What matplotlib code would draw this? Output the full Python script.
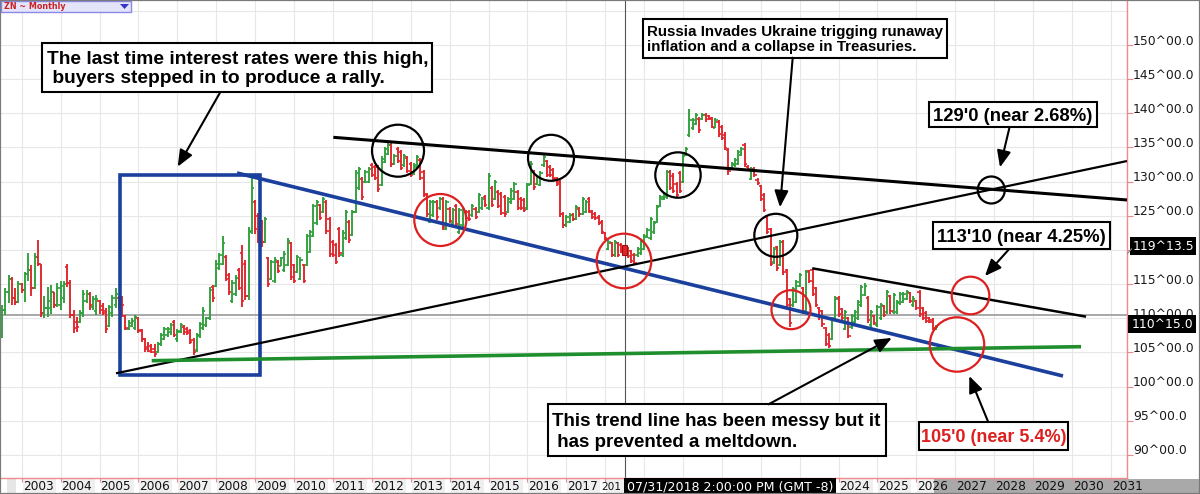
import numpy as np
import pandas as pd
import matplotlib
matplotlib.use("Agg")
import matplotlib.pyplot as plt
import matplotlib.transforms as mtrans
from matplotlib.patches import Rectangle, Ellipse, FancyArrowPatch, Polygon
from matplotlib.lines import Line2D

# ---------------- data (ZN monthly bars, Jul 2002 .. Jul 2026) ----------------
first_month = "2002-07-01"

opens = [
    107.5, 111.2, 113.8, 115.8, 113.0, 112.4,
    115.0, 114.2, 116.5, 117.0, 114.5, 119.0, 118.0, 110.8, 111.5, 111.5, 113.8, 112.0,
    112.0, 113.0, 117.5, 115.2, 110.5, 109.5, 109.5, 110.8, 112.5, 113.6, 111.6, 111.0,
    112.5, 111.8, 111.0, 108.9, 110.8, 112.0, 113.0, 112.8, 110.3, 108.5, 108.9, 108.6,
    110.0, 108.3, 107.0, 105.8, 106.0, 105.5, 105.0, 106.2, 107.0, 107.6, 108.0, 109.5,
    106.9, 108.0, 108.8, 108.5, 108.2, 106.8, 105.4, 107.4, 108.6, 109.0, 110.0, 114.6,
    114.8, 117.4, 118.0, 119.0, 116.4, 112.6, 113.5, 117.0, 119.5, 118.0, 113.2, 122.6,
    127.0, 125.0, 124.0, 121.2, 118.8, 115.8, 115.5, 118.3, 117.7, 117.0, 117.8, 121.0,
    117.8, 116.8, 115.8, 117.8, 117.8, 119.7, 122.1, 123.9, 126.6, 125.6, 127.0, 124.6,
    121.2, 120.7, 123.0, 119.2, 121.7, 124.1, 122.2, 125.6, 129.0, 130.4, 130.0, 130.0,
    132.4, 132.1, 132.1, 129.5, 132.9, 134.1, 135.3, 132.6, 134.8, 134.3, 132.4, 133.4,
    132.6, 131.2, 132.1, 133.1, 131.4, 128.0, 124.1, 125.1, 127.0, 126.1, 127.5, 123.1,
    126.0, 123.9, 126.5, 122.6, 123.6, 125.6, 125.6, 125.1, 126.0, 125.6, 126.1, 127.8,
    126.1, 129.0, 127.5, 128.5, 128.2, 127.7, 125.6, 127.0, 127.5, 128.5, 127.5, 127.3,
    126.1, 129.7, 131.4, 129.7, 129.5, 132.4, 133.0, 132.1, 131.7, 130.4, 130.0, 125.3,
    123.6, 124.1, 125.1, 124.6, 126.0, 125.3, 125.6, 127.5, 125.6, 125.3, 124.8, 124.1,
    122.5, 120.2, 121.0, 119.2, 121.0, 120.8, 120.5, 120.3, 119.8, 119.3, 119.2, 119.5,
    120.2, 121.9, 121.7, 122.6, 124.1, 126.5, 127.5, 127.7, 131.4, 130.9, 129.7, 131.2,
    130.0, 133.9, 136.8, 137.8, 138.5, 139.2, 139.2, 139.7, 139.6, 139.3, 137.9, 138.8,
    138.0, 136.8, 134.6, 131.9, 132.4, 132.6, 133.9, 135.3, 132.2, 130.4, 131.9, 130.3,
    129.3, 128.1, 124.9, 123.0, 118.2, 120.4, 117.8, 121.2, 117.0, 112.8, 111.9, 112.4,
    114.8, 114.4, 110.9, 116.9, 117.0, 114.4, 111.5, 111.0, 108.6, 107.6, 107.0, 110.0,
    113.0, 111.3, 108.5, 110.0, 108.7, 109.5, 110.0, 111.9, 113.4, 113.0, 109.0, 110.3,
    109.0, 110.0, 111.8, 110.9, 113.2, 110.9, 110.9, 112.2, 112.4, 112.9, 113.7, 111.9,
    112.5, 113.8, 111.5, 110.8, 110.0, 109.8, 108.4,
]
highs = [
    112.0, 114.4, 116.3, 116.1, 114.4, 115.4,
    115.1, 116.8, 119.5, 117.8, 119.5, 121.5, 118.0, 113.2, 114.6, 114.9, 113.9, 115.1,
    115.4, 115.4, 118.0, 115.6, 111.2, 110.2, 111.2, 114.1, 114.1, 113.9, 113.2, 113.4,
    112.7, 112.2, 111.5, 112.0, 113.4, 114.4, 113.2, 113.2, 110.5, 109.8, 110.0, 110.5,
    110.2, 108.5, 107.1, 106.6, 106.3, 106.3, 106.6, 107.8, 108.8, 108.8, 109.3, 109.8,
    108.5, 109.3, 109.0, 108.8, 108.5, 107.1, 107.8, 109.5, 111.7, 110.2, 114.6, 114.9,
    118.5, 119.5, 122.0, 119.3, 116.6, 115.6, 116.3, 117.3, 120.7, 118.5, 123.4, 131.0,
    127.3, 125.4, 124.4, 124.9, 119.0, 118.5, 119.0, 118.5, 119.0, 119.8, 121.7, 121.2,
    118.0, 119.3, 119.0, 118.0, 122.4, 122.9, 126.8, 127.3, 126.8, 127.8, 127.3, 124.9,
    121.5, 121.0, 123.4, 122.9, 125.9, 124.4, 125.9, 131.7, 132.2, 130.7, 131.7, 132.2,
    132.7, 132.4, 132.4, 133.7, 135.1, 135.6, 135.6, 134.1, 135.1, 134.6, 134.1, 133.7,
    132.9, 132.7, 133.9, 133.4, 131.7, 128.3, 127.3, 127.3, 127.3, 127.8, 127.8, 127.3,
    126.3, 126.1, 126.8, 126.1, 126.3, 125.9, 125.9, 126.8, 126.3, 128.3, 127.8, 128.0,
    131.2, 129.3, 130.2, 128.8, 128.5, 128.0, 127.8, 129.0, 130.0, 128.8, 127.8, 127.6,
    129.8, 133.0, 131.7, 131.0, 131.5, 133.9, 133.2, 132.4, 132.0, 130.7, 130.2, 125.6,
    125.1, 125.4, 125.4, 126.6, 126.3, 127.8, 127.3, 127.8, 125.9, 125.6, 125.1, 124.4,
    122.7, 121.5, 121.2, 121.5, 121.2, 121.0, 120.7, 120.5, 120.0, 119.5, 120.5, 121.5,
    122.4, 123.2, 124.9, 124.2, 126.6, 128.0, 128.3, 131.7, 131.7, 131.2, 130.0, 131.5,
    134.1, 135.1, 140.7, 139.3, 140.0, 139.5, 140.0, 140.0, 139.8, 139.5, 139.3, 139.0,
    138.3, 137.3, 134.9, 132.9, 133.4, 134.6, 135.1, 135.6, 132.4, 132.2, 132.2, 130.5,
    129.5, 128.3, 125.1, 123.2, 120.5, 120.6, 121.5, 121.4, 117.2, 113.0, 114.6, 115.6,
    116.6, 114.6, 117.1, 117.1, 117.3, 114.6, 111.7, 111.2, 108.8, 107.8, 110.2, 113.2,
    113.2, 111.5, 111.2, 110.2, 110.7, 111.2, 112.7, 114.9, 115.1, 113.2, 111.2, 110.5,
    112.0, 112.2, 112.0, 114.1, 113.4, 113.7, 112.7, 113.9, 113.9, 114.1, 113.9, 113.2,
    112.7, 114.1, 111.7, 111.0, 110.2, 110.0, 109.0,
]
lows = [
    107.1, 110.5, 112.2, 112.0, 112.0, 112.2,
    113.7, 112.4, 115.4, 113.2, 114.3, 117.6, 110.2, 110.0, 110.2, 110.7, 111.5, 111.7,
    111.2, 112.2, 114.6, 110.0, 107.8, 108.0, 109.3, 110.2, 112.2, 111.2, 111.2, 110.5,
    110.7, 110.5, 107.8, 108.8, 110.2, 111.5, 111.2, 110.2, 108.3, 108.3, 108.8, 108.3,
    107.8, 106.6, 105.1, 105.0, 104.9, 104.4, 104.9, 105.9, 106.8, 107.3, 107.6, 107.3,
    106.6, 107.8, 107.6, 107.6, 106.3, 104.6, 105.1, 107.1, 108.3, 108.8, 109.8, 112.4,
    114.6, 117.1, 117.8, 115.4, 113.4, 112.2, 113.2, 114.1, 111.7, 112.7, 112.7, 122.4,
    122.4, 121.0, 120.5, 121.0, 114.6, 115.6, 115.1, 116.6, 117.6, 116.8, 117.6, 115.6,
    115.1, 116.6, 115.6, 115.1, 117.6, 119.5, 121.9, 123.7, 124.4, 125.4, 122.4, 119.0,
    119.0, 118.0, 119.0, 119.0, 121.5, 121.0, 122.0, 125.4, 128.8, 127.3, 129.8, 129.8,
    130.7, 130.2, 128.5, 129.3, 132.7, 133.9, 132.2, 132.4, 132.7, 131.7, 132.2, 131.2,
    130.7, 131.0, 131.9, 130.2, 127.8, 124.9, 123.9, 124.9, 124.4, 125.9, 122.9, 122.9,
    123.9, 123.7, 123.4, 122.4, 123.4, 124.4, 124.2, 124.9, 124.6, 125.4, 125.9, 126.3,
    125.9, 126.3, 127.3, 126.1, 125.1, 124.9, 125.4, 126.8, 127.3, 125.9, 125.9, 125.6,
    125.9, 129.5, 128.8, 129.5, 129.3, 132.2, 130.7, 130.7, 130.2, 129.3, 124.9, 123.2,
    123.4, 123.9, 124.2, 124.4, 124.9, 125.1, 125.4, 125.4, 124.6, 124.4, 123.7, 122.4,
    121.5, 120.0, 119.0, 119.0, 119.0, 119.5, 119.3, 118.8, 118.1, 117.8, 119.0, 119.3,
    120.0, 121.7, 121.5, 122.4, 123.9, 126.3, 127.3, 127.5, 128.8, 128.3, 127.8, 128.3,
    129.8, 133.7, 136.6, 137.6, 138.3, 137.1, 139.0, 138.8, 139.0, 137.8, 137.8, 136.6,
    136.1, 134.6, 131.0, 131.7, 132.2, 132.4, 133.7, 132.2, 131.5, 130.2, 130.7, 129.5,
    127.1, 125.6, 122.4, 117.6, 118.0, 116.9, 117.6, 116.4, 111.5, 108.8, 111.7, 112.2,
    114.6, 110.7, 110.7, 115.1, 113.2, 111.7, 109.8, 108.8, 105.9, 105.6, 106.8, 109.8,
    110.2, 109.8, 108.3, 107.1, 108.5, 109.3, 109.8, 111.7, 113.2, 109.3, 108.8, 109.0,
    108.8, 109.8, 110.2, 110.7, 110.7, 110.7, 110.7, 112.0, 112.2, 112.7, 112.2, 111.7,
    111.2, 110.2, 109.8, 109.3, 109.3, 108.3, 108.3,
]
closes = [
    111.2, 113.8, 115.8, 113.0, 112.4, 115.0,
    114.2, 116.5, 117.0, 114.5, 119.0, 118.0, 110.8, 111.5, 112.5, 113.8, 112.0, 114.5,
    114.8, 115.0, 115.2, 110.5, 108.6, 108.8, 110.8, 113.6, 113.5, 112.0, 112.8, 112.9,
    111.2, 110.8, 108.5, 111.6, 113.0, 113.5, 111.5, 112.0, 108.6, 109.3, 109.6, 110.2,
    108.2, 106.9, 105.5, 105.2, 105.1, 104.8, 106.3, 107.5, 108.4, 108.5, 109.0, 107.6,
    108.2, 109.0, 108.0, 107.8, 106.6, 105.0, 107.5, 109.2, 111.0, 110.0, 114.2, 113.0,
    118.0, 119.2, 121.0, 115.8, 113.8, 115.2, 115.9, 114.5, 112.5, 113.2, 122.8, 129.0,
    123.0, 121.6, 121.2, 124.5, 115.0, 118.2, 118.5, 116.9, 118.8, 119.4, 121.3, 116.0,
    115.5, 119.0, 118.6, 115.4, 122.0, 122.6, 126.4, 127.0, 124.7, 127.4, 122.8, 119.4,
    119.3, 118.3, 119.5, 122.5, 125.5, 121.5, 125.5, 131.2, 131.8, 127.8, 131.4, 131.9,
    131.0, 130.5, 128.9, 133.3, 134.8, 135.3, 132.6, 133.8, 133.0, 132.0, 133.8, 131.5,
    131.0, 132.4, 133.6, 130.6, 128.2, 125.3, 127.0, 127.0, 124.8, 127.5, 123.3, 127.0,
    124.3, 125.8, 123.8, 125.8, 126.0, 124.7, 124.5, 126.5, 124.9, 128.0, 127.5, 126.6,
    130.8, 126.6, 129.9, 126.4, 125.4, 125.2, 127.5, 128.7, 129.7, 126.2, 126.2, 125.9,
    129.5, 132.6, 129.2, 130.7, 131.2, 133.6, 131.0, 131.0, 130.5, 129.6, 125.3, 123.6,
    124.8, 125.1, 124.5, 126.3, 125.2, 127.5, 127.0, 125.7, 124.9, 124.7, 124.0, 122.7,
    121.8, 121.2, 119.3, 121.2, 119.3, 119.8, 119.6, 119.1, 118.4, 118.1, 120.2, 121.2,
    122.1, 122.9, 124.6, 123.9, 126.3, 127.7, 128.0, 131.4, 129.1, 128.6, 128.1, 128.6,
    133.8, 134.8, 139.0, 139.0, 139.7, 137.5, 139.7, 139.1, 139.2, 138.0, 139.0, 137.0,
    136.4, 134.9, 131.5, 132.6, 133.1, 134.3, 134.8, 132.6, 131.8, 131.9, 131.0, 129.8,
    127.4, 125.9, 122.7, 118.0, 120.2, 117.3, 121.2, 116.8, 111.9, 109.3, 114.3, 115.3,
    116.3, 111.1, 116.8, 115.5, 113.6, 112.0, 110.2, 109.2, 106.2, 105.9, 109.9, 112.9,
    110.6, 110.1, 110.9, 107.4, 110.4, 110.9, 112.4, 114.6, 114.8, 109.7, 110.9, 109.3,
    111.7, 111.9, 110.5, 113.8, 111.0, 113.4, 112.4, 113.6, 113.6, 113.8, 112.5, 112.9,
    111.5, 110.6, 110.1, 109.6, 109.5, 108.6, 108.8,
]

price_ticks = list(range(90, 151, 5))
year_ticks = list(range(2003, 2032))
last_price = 110 + 15 / 32          # 110^15.0
cursor_price = 119 + 13.5 / 32      # 119^13.5
cursor_date = 2018.52
cursor_text = "07/31/2018 2:00:00 PM (GMT -8)"

# drawn trend lines (year, price) endpoints
blue_trend = [(2008.535, 131.27), (2029.769, 101.56)]
black_upper = [(2011.010, 136.49), (2031.414, 127.32)]
black_rising = [(2005.424, 101.95), (2031.414, 133.02)]
green_support = [(2006.342, 103.80), (2030.232, 105.85)]
black_lower = [(2023.324, 117.32), (2030.361, 110.24)]
blue_box = [(2005.527, 101.705), (2009.126, 130.975)]

# circles: (year, price, radius in px, colour)
circles = [
    (2012.674, 134.53, 26, "k"), (2013.761, 124.39, 26, "r"),
    (2016.607, 133.49, 23, "k"), (2018.483, 118.39, 27.3, "r"),
    (2019.871, 130.97, 22.7, "k"), (2022.386, 122.15, 21.5, "k"),
    (2022.776, 111.26, 19.5, "r"), (2027.391, 113.34, 18.8, "r"),
    (2027.044, 106.17, 27.2, "r"), (2027.925, 128.78, 13.5, "k"),
]

# ---------------- figure ----------------
W, H = 1200, 494
GREEN = "#2e9e3a"
RED = "#e0242a"
CRED = "#dd1f1f"
BLUE = "#1a3f9c"
AXRED = "#f08a8a"

fig = plt.figure(figsize=(12, 4.94), dpi=100)
fig.patch.set_facecolor("white")
ax = fig.add_axes([0, 16 / H, 1127 / W, 478 / H])
X0, X1 = 2002.442, 2031.414
Y0, Y1 = 86.63, 156.586
ax.set_xlim(X0, X1)
ax.set_ylim(Y0, Y1)
pxx = 1127 / (X1 - X0)
pxy = 478 / (Y1 - Y0)

for s in ["top", "left"]:
    ax.spines[s].set_visible(False)
for s in ["right", "bottom"]:
    ax.spines[s].set_color(AXRED)
    ax.spines[s].set_linewidth(1.0)

ax.set_xticks(year_ticks)
ax.set_yticks(price_ticks)
ax.tick_params(axis="x", bottom=True, top=False, length=3, width=0.8, color=AXRED,
               labelbottom=False, direction="out")
ax.tick_params(axis="y", left=False, right=True, length=4, width=0.8, color=AXRED,
               labelleft=False, labelright=False, direction="out")
ax.grid(True, color="#e7e7e7", lw=0.8)
ax.axhline(155, color="#e7e7e7", lw=0.8, zorder=0)
ax.set_axisbelow(True)

# price axis labels (slightly above their ticks as in the source)
blend = mtrans.blended_transform_factory(ax.transAxes, ax.transData)
for v in price_ticks:
    ax.text(1133 / 1127, v + 4 / pxy, f"{v}^00.0", transform=blend, ha="left",
            va="center", fontsize=8.9, color="#1a1a1a", clip_on=False,
            family="DejaVu Sans")

# ---------------- OHLC bars ----------------
o = np.array(opens); hi = np.array(highs); lo = np.array(lows); c = np.array(closes)
n = min(len(o), len(hi), len(lo), len(c))
o, hi, lo, c = o[:n], hi[:n], lo[:n], c[:n]
dates = pd.date_range(first_month, periods=n, freq="MS")
xs = np.asarray(dates.year + (dates.month - 1) / 12.0, dtype=float)
cols = np.where(c >= o, GREEN, RED)
tk = 2.2 / pxx
ax.vlines(xs, lo, hi, colors=cols, lw=1.35, zorder=2)
ax.hlines(o, xs - tk, xs, colors=cols, lw=1.2, zorder=2)
ax.hlines(c, xs, xs + tk, colors=cols, lw=1.2, zorder=2)
sel = np.where((dates.year == 2018) & (dates.month == 7))[0]
for i in sel:
    ax.add_patch(Rectangle((xs[i] - 2.5 / pxx, lo[i]), 5 / pxx, hi[i] - lo[i],
                           fc=RED, ec="#a01010", lw=0.8, zorder=3))

# ---------------- horizontal price line & cursor ----------------
ax.axhline(last_price, color="#9a9a9a", lw=1.2, zorder=1.5)
ax.axvline(cursor_date, color="#555555", lw=0.8, zorder=1.6)

# ---------------- trend lines ----------------
def seg(pts, color, lw, z=3):
    (xa, ya), (xb, yb) = pts
    ax.add_line(Line2D([xa, xb], [ya, yb], color=color, lw=lw, zorder=z,
                       solid_capstyle="butt"))

(bx0, by0), (bx1, by1) = blue_box
ax.add_patch(Rectangle((bx0, by0), bx1 - bx0, by1 - by0, fill=False, ec=BLUE,
                       lw=2.6, zorder=3, joinstyle="miter"))
seg(blue_trend, BLUE, 2.6)
seg(black_upper, "black", 2.2)
seg(black_rising, "black", 1.6)
seg(green_support, "#1f8f2e", 2.6)
seg(black_lower, "black", 1.8)

for (cx, cy, r, col) in circles:
    ax.add_patch(Ellipse((cx, cy), 2 * r / pxx, 2 * r / pxy, fill=False,
                         ec=("black" if col == "k" else CRED), lw=1.6, zorder=4))

# ---------------- annotation boxes ----------------
BF = dict(family="Liberation Sans", weight="bold")

def box(x0, y0, x1, y1):
    ax.add_patch(Rectangle((x0, y0), x1 - x0, y1 - y0, fc="white", ec="black",
                           lw=1.5, zorder=5))

def arrow(tail, head):
    ax.add_patch(FancyArrowPatch(tail, head, arrowstyle="-|>,head_length=1.0,head_width=0.42",
                                 mutation_scale=10, color="black", lw=1.5,
                                 shrinkA=0, shrinkB=0, zorder=6))

box(2003.514, 143.08, 2013.548, 150.25)
ax.text(2003.643, 147.22, "The last time interest rates were this high,", fontsize=13.8,
        ha="left", va="baseline", zorder=6, **BF)
ax.text(2003.643, 144.39, " buyers stepped in to produce a rally.", fontsize=13.8,
        ha="left", va="baseline", zorder=6, **BF)
arrow((2008.103, 143.08), (2007.010, 132.19))

box(2018.964, 148.14, 2026.794, 153.76)
ax.text(2019.067, 151.32, "Russia Invades Ukraine trigging runaway", fontsize=10.9,
        ha="left", va="baseline", zorder=6, **BF)
ax.text(2019.067, 149.12, "inflation and a collapse in Treasuries.", fontsize=10.9,
        ha="left", va="baseline", zorder=6, **BF)
arrow((2022.820, 148.14), (2022.494, 126.25))

box(2026.332, 137.955, 2030.635, 141.702)
ax.text(2028.483, 138.92, "129'0 (near 2.68%)", fontsize=13.3, ha="center",
        va="baseline", zorder=6, **BF)
arrow((2028.388, 137.81), (2028.149, 132.10))

box(2026.434, 120.10, 2030.977, 124.14)
ax.text(2028.707, 121.21, "113'10 (near 4.25%)", fontsize=13.3, ha="center",
        va="baseline", zorder=6, **BF)
arrow((2028.363, 120.0), (2027.763, 116.19))

box(2016.527, 89.85, 2025.229, 97.42)
ax.text(2016.645, 94.28, "This trend line has been messy but it", fontsize=13.5,
        ha="left", va="baseline", zorder=6, **BF)
ax.text(2016.645, 91.15, " has prevented a meltdown.", fontsize=13.5,
        ha="left", va="baseline", zorder=6, **BF)
arrow((2022.200, 97.42), (2025.368, 107.13))

box(2026.075, 90.79, 2029.894, 94.83)
ax.text(2027.985, 91.83, "105'0 (near 5.4%)", fontsize=13.0, ha="center",
        va="baseline", color=CRED, zorder=6, **BF)
arrow((2027.846, 94.83), (2027.360, 101.56))

# ---------------- figure-level decorations (pixel coordinates) ----------------
def fr(x0, y0, x1, y1, **kw):
    fig.add_artist(Rectangle((x0 / W, 1 - y1 / H), (x1 - x0) / W, (y1 - y0) / H,
                             transform=fig.transFigure, **kw))

def ftext(x, y, s, **kw):
    fig.text(x / W, 1 - y / H, s, **kw)

def xpix(v):
    return (v - X0) * pxx

cx_px = xpix(cursor_date) - 1.5     # cursor label box
lab_l, lab_r = cx_px, cx_px + 212
end_px = xpix(xs[-1]) - 2

# bottom time strip
fr(0, 478, W, H, fc="white", ec="none", zorder=-3)
fr(7, 479, 16, 494, fc="#e6e6e6", ec="none", zorder=-2)
fr(end_px, 479, W, 494, fc="#a9a9a9", ec="none", zorder=-1)
for yr in year_ticks:
    px = xpix(yr)
    if px + 1 < end_px:
        fr(px + 1, 479, min(px + 34, end_px), 494, fc="#efefef", ec="none", zorder=-2)
    if lab_l - 20 < px < lab_r:
        if px < lab_l:
            # only the first digits peek out before the cursor label
            ftext(lab_l - 3, 486.5, str(yr)[:3], ha="right", va="center", fontsize=7.6,
                  color="#111111", family="DejaVu Sans", zorder=1)
        continue
    ftext(px + 1.0, 486.5, str(yr), ha="left", va="center", fontsize=8.7,
          color="#111111", family="DejaVu Sans", zorder=1)

# cursor date label
fr(lab_l, 478, lab_r, 494, fc="black", ec="none", zorder=7)
ftext(lab_l + 3, 486.5, cursor_text, ha="left", va="center", fontsize=9.1,
      color="white", family="DejaVu Sans", zorder=8)

# price labels on axis
def ypix(v):
    return (Y1 - v) * pxy

lp = ypix(last_price)
fr(1128, lp, 1196, lp + 18, fc="black", ec="none", zorder=7)
ftext(1162, lp + 9.3, "110^15.0", ha="center", va="center", fontsize=8.9,
      color="white", family="DejaVu Sans", zorder=8)
cp = ypix(cursor_price)
fr(1130, cp - 17, 1196, cp + 1, fc="black", ec="none", zorder=7)
ftext(1163, cp - 7.7, "119^13.5", ha="center", va="center", fontsize=8.9,
      color="white", family="DejaVu Sans", zorder=8)
fig.add_artist(Line2D([1127.5 / W, 1131.5 / W], [1 - (cp - 0.5) / H, 1 - (cp - 5) / H],
                      transform=fig.transFigure, color="#888888", lw=0.8, zorder=8))

# top-left chart title widget
fr(1, 1, 131, 12, fc="#e4e4fa", ec="#8a8ae6", lw=1.0, zorder=9)
ftext(4, 6.8, "ZN ~ Monthly", ha="left", va="center", fontsize=5.8, color="#cc2222",
      weight="bold", family="DejaVu Sans", zorder=10)
fig.add_artist(Polygon([(120 / W, 1 - 4 / H), (129 / W, 1 - 4 / H), (124.5 / W, 1 - 9 / H)],
                       closed=True, transform=fig.transFigure, fc="#3535c8", ec="none",
                       zorder=10))

# outer frame
fig.add_artist(Rectangle((0, 0), 1, 1, transform=fig.transFigure, fill=False,
                         ec="#7a7a7a", lw=1.6, zorder=20))

fig.savefig("out.png", dpi=100, facecolor="white")
